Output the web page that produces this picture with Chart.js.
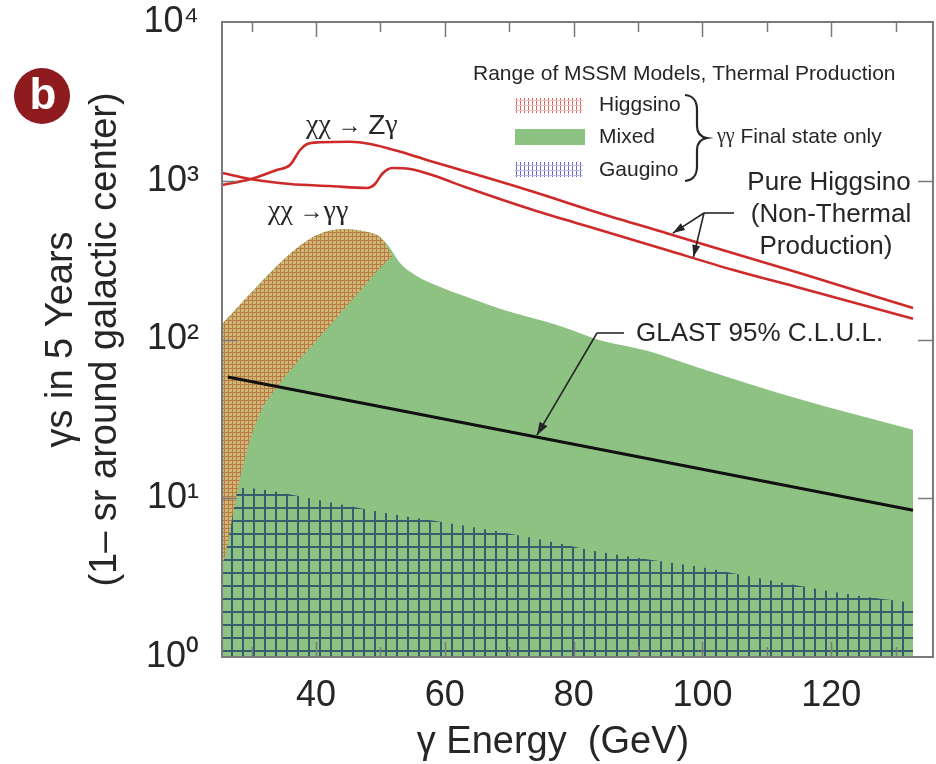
<!DOCTYPE html>
<html>
<head>
<meta charset="utf-8">
<script src="https://cdn.jsdelivr.net/npm/chart.js@4/dist/chart.umd.min.js"></script>
<style>
  html, body { margin: 0; padding: 0; background: #fff; }
  #wrap { width: 936px; height: 764px; }
</style>
</head>
<body>
<div id="wrap"><canvas id="c" width="936" height="764"></canvas></div>
<script>
// ---------- axes ----------
const energyMin = 25.4, energyMax = 135.8;           // GeV
const countMin = 1, countMax = 10000;
const decadeTicks  = [1, 10, 100, 1000, 10000];
const decadeLabels = ['10⁰', '10¹', '10²', '10³', '10⁴'];
const energyTicks    = [30, 40, 50, 60, 70, 80, 90, 100, 110, 120, 130];
const energyLabelled = [40, 60, 80, 100, 120];

// ---------- pure Higgsino (non-thermal) lines ----------
const zgEnergy = [25.4, 29.75, 33.9, 35.96, 37.52, 38.56, 40.62, 45.28, 48.39, 52.7, 57.7, 63.4, 73.74, 84.1, 94.46, 104.8, 115.2, 132.7];
const zgCounts = [940, 1021, 1169, 1257, 1562, 1697, 1747, 1762, 1704, 1540, 1332, 1140, 853, 624, 467, 349, 261, 158];

const ggEnergy = [25.4, 29.75, 35.96, 42.17, 47.92, 49.16, 50.25, 51.8, 54.6, 58.48, 63.14, 73.74, 84.1, 94.46, 104.8, 115.2, 132.7];
const ggCounts = [1119, 1026, 954, 926, 900, 954, 1103, 1203, 1186, 1071, 913, 654, 490, 366, 274, 211, 135];

// ---------- GLAST 95% C.L. upper limit ----------
const glastEnergy = [26.3, 132.7];
const glastLimit  = [58, 8.4];

// ---------- MSSM thermal production ranges ----------
const higgsinoEnergy = [25.4, 25.87, 26.65, 27.73, 29.29, 31.3, 33.94, 36.43, 40.16, 44.19, 47.92, 49.94, 51.8];
const higgsinoUpper  = [125, 131, 141, 158, 185, 224, 290, 361, 455, 497, 476, 442, 340];
const higgsinoLower  = [3.8, 4.33, 6.31, 10.8, 20.1, 34.4, 50.2, 67.1, 99.3, 153, 227, 282, 332];

const mixedEnergy = [25.4, 29.29, 33.94, 40.16, 44.19, 47.92, 49.94, 51.49, 53.04, 55.37, 58.17, 63.45, 68.57, 78.35, 84.1, 91.4, 99.63, 115.16, 132.7];
const mixedUpper  = [125, 185, 290, 455, 497, 476, 442, 377, 303, 255, 224, 185, 156, 120, 99, 85, 66, 42, 27];

const gauginoEnergy = [25.4, 28.67, 39.53, 49.94, 62.36, 73.7, 84.1, 99.63, 107.86, 121.37, 132.7];
const gauginoUpper  = [11.6, 11.6, 9.89, 8.19, 6.78, 5.62, 4.59, 3.69, 3.19, 2.53, 2.19];

// ---------- styling ----------
const GREEN = '#8dc283';
const RED = '#cf2a2a';
const INK = '#262626';
const SANS = '"Liberation Sans", Arial, sans-serif';
const SERIF = '"Liberation Serif", "Times New Roman", serif';

const canvas = document.getElementById('c');
const ctx0 = canvas.getContext('2d');

function gridPattern(w, h, bg, ink, lw, inkH) {
  const t = document.createElement('canvas');
  t.width = w; t.height = h;
  const g = t.getContext('2d');
  g.fillStyle = bg; g.fillRect(0, 0, w, h);
  g.fillStyle = ink; g.fillRect(0, 0, lw, h);
  g.fillStyle = inkH || ink; g.fillRect(0, 0, w, lw);
  return ctx0.createPattern(t, 'repeat');
}

const higgsinoFill = gridPattern(4, 4, '#d0b874', '#b97a4a', 1);
const gauginoFill  = gridPattern(11, 13, GREEN, '#345d6e', 2);
const higgsinoKey  = gridPattern(4, 5, '#ffffff', '#e06464', 1, '#f4c0c0');
const gauginoKey   = gridPattern(4, 5, '#ffffff', '#6a68c4', 1, '#b8b8e8');

const pts = (xs, ys) => xs.map((x, i) => ({ x, y: ys[i] }));

function logInterp(xs, ys, e) {
  for (let i = 0; i < xs.length - 1; i++) {
    if (e >= xs[i] && e <= xs[i + 1]) {
      const t = (e - xs[i]) / (xs[i + 1] - xs[i]);
      return Math.pow(10, Math.log10(ys[i]) * (1 - t) + Math.log10(ys[i + 1]) * t);
    }
  }
  return ys[ys.length - 1];
}

function arrow(ctx, x0, y0, x1, y1, head, half) {
  ctx.beginPath(); ctx.moveTo(x0, y0); ctx.lineTo(x1, y1); ctx.stroke();
  const a = Math.atan2(y1 - y0, x1 - x0);
  const bx = x1 - head * Math.cos(a), by = y1 - head * Math.sin(a);
  ctx.beginPath();
  ctx.moveTo(x1, y1);
  ctx.lineTo(bx + half * Math.sin(a), by - half * Math.cos(a));
  ctx.lineTo(bx - half * Math.sin(a), by + half * Math.cos(a));
  ctx.closePath(); ctx.fill();
}

function segText(ctx, x, y, parts) {
  let cx = x;
  parts.forEach(([txt, font]) => {
    ctx.font = font;
    ctx.fillText(txt, cx, y);
    cx += ctx.measureText(txt).width;
  });
}

// keep the plot box where the axes put it: no extra room for half-labels
function noEdgePadding(s) {
  s.paddingTop = 0; s.paddingBottom = 0; s.paddingLeft = 0; s.paddingRight = 0;
}

const framePlugin = {
  id: 'frame',
  afterDatasetsDraw(chart) {
    const { ctx, chartArea: a, scales: { x, y } } = chart;
    ctx.save();
    ctx.strokeStyle = '#7a7a7a';
    ctx.lineWidth = 2;
    ctx.strokeRect(a.left, a.top, a.right - a.left, a.bottom - a.top);
    ctx.lineWidth = 1.5;
    ctx.beginPath();
    energyTicks.forEach(v => {
      const px = Math.round(x.getPixelForValue(v)) + 0.5;
      const len = energyLabelled.includes(v) ? 15 : 10;
      ctx.moveTo(px, a.bottom); ctx.lineTo(px, a.bottom - len);
      ctx.moveTo(px, a.top); ctx.lineTo(px, a.top + len);
    });
    decadeTicks.slice(1, -1).forEach(v => {
      const py = Math.round(y.getPixelForValue(v)) + 0.5;
      ctx.moveTo(a.left, py); ctx.lineTo(a.left + 15, py);
      ctx.moveTo(a.right, py); ctx.lineTo(a.right - 15, py);
    });
    ctx.stroke();
    ctx.restore();
  },
  afterDraw(chart) {
    const { ctx, scales: { x, y } } = chart;
    const px = e => x.getPixelForValue(e);
    const py = v => y.getPixelForValue(v);
    ctx.save();
    ctx.fillStyle = INK;
    ctx.strokeStyle = INK;
    ctx.textBaseline = 'middle';

    // panel badge
    ctx.fillStyle = '#8e1b1d';
    ctx.beginPath(); ctx.arc(42, 96, 28, 0, Math.PI * 2); ctx.fill();
    ctx.fillStyle = '#ffffff';
    ctx.font = 'bold 44px ' + SANS;
    ctx.textAlign = 'center';
    ctx.fillText('b', 43, 97);

    // x-axis title
    ctx.fillStyle = INK;
    ctx.font = '38px ' + SANS;
    ctx.textAlign = 'center';
    ctx.fillText('γ Energy  (GeV)', 553, 743);

    // channel labels
    ctx.textAlign = 'left';
    segText(ctx, 306, 126, [['χχ', '28px ' + SERIF], [' → ', '24px ' + SANS], ['Z', '28px ' + SANS], ['γ', '28px ' + SERIF]]);
    segText(ctx, 268, 212, [['χχ', '28px ' + SERIF], [' →', '24px ' + SANS], ['γγ', '28px ' + SERIF]]);

    // legend
    ctx.font = '21px ' + SANS;
    ctx.fillText('Range of MSSM Models, Thermal Production', 473, 74);
    ctx.fillStyle = higgsinoKey; ctx.fillRect(515, 98, 68, 15);
    ctx.fillStyle = GREEN;       ctx.fillRect(515, 129, 70, 16);
    ctx.fillStyle = gauginoKey;  ctx.fillRect(515, 162, 68, 15);
    ctx.fillStyle = INK;
    ctx.font = '21px ' + SANS;
    ctx.fillText('Higgsino', 599, 105);
    ctx.fillText('Mixed', 599, 137);
    ctx.fillText('Gaugino', 599, 170);
    ctx.lineWidth = 2.2;
    ctx.beginPath();
    ctx.moveTo(685, 95);
    ctx.bezierCurveTo(694, 96, 697, 101, 697, 110);
    ctx.lineTo(697, 126);
    ctx.bezierCurveTo(697, 133, 701, 137, 707, 138);
    ctx.bezierCurveTo(701, 139, 697, 143, 697, 150);
    ctx.lineTo(697, 166);
    ctx.bezierCurveTo(697, 175, 694, 180, 685, 181);
    ctx.stroke();
    segText(ctx, 717, 137, [['γγ', '20px ' + SERIF], [' Final state only', '21px ' + SANS]]);

    // pure Higgsino annotation
    ctx.font = '26px ' + SANS;
    ctx.textAlign = 'center';
    ctx.fillText('Pure Higgsino', 829, 183);
    ctx.fillText('(Non-Thermal', 831, 215);
    ctx.fillText('Production)', 826, 247);
    ctx.lineWidth = 1.6;
    ctx.beginPath(); ctx.moveTo(704, 213); ctx.lineTo(734, 213); ctx.stroke();
    arrow(ctx, 704, 213, px(95.4), py(logInterp(zgEnergy, zgCounts, 95.4)) - 2, 12, 4);
    arrow(ctx, 704, 213, px(98.6), py(logInterp(ggEnergy, ggCounts, 98.6)) - 1, 12, 4);

    // GLAST annotation
    ctx.textAlign = 'left';
    ctx.font = '26px ' + SANS;
    ctx.fillText('GLAST 95% C.L.U.L.', 636, 334);
    ctx.beginPath(); ctx.moveTo(597, 333); ctx.lineTo(624, 333); ctx.stroke();
    arrow(ctx, 597, 333, px(74.3), py(logInterp(glastEnergy, glastLimit, 74.3)) - 2, 13, 4.5);

    ctx.restore();
  }
};

const transparent = 'rgba(0,0,0,0)';
const datasets = [
  { label: 'χχ → Zγ', data: pts(zgEnergy, zgCounts), borderColor: RED, borderWidth: 2.6, fill: false, order: 0 },
  { label: 'χχ → γγ', data: pts(ggEnergy, ggCounts), borderColor: RED, borderWidth: 2.6, fill: false, order: 1 },
  { label: 'GLAST 95% C.L.U.L.', data: pts(glastEnergy, glastLimit), borderColor: '#111111', borderWidth: 3, fill: false, order: 2 },
  { label: 'Higgsino', data: pts(higgsinoEnergy, higgsinoUpper), borderColor: transparent, borderWidth: 1, backgroundColor: higgsinoFill, fill: { target: 4 }, order: 3 },
  { label: 'Higgsino (lower edge)', data: pts(higgsinoEnergy, higgsinoLower), borderColor: transparent, borderWidth: 1, fill: false, order: 4 },
  { label: 'Gaugino', data: pts(gauginoEnergy, gauginoUpper), borderColor: transparent, borderWidth: 1, backgroundColor: gauginoFill, fill: 'start', order: 5 },
  { label: 'Mixed', data: pts(mixedEnergy, mixedUpper), borderColor: transparent, borderWidth: 1, backgroundColor: GREEN, fill: 'start', order: 6 }
];

new Chart(canvas, {
  type: 'line',
  data: { datasets },
  options: {
    responsive: false,
    animation: false,
    devicePixelRatio: 1,
    layout: { padding: { left: 0, right: 3, top: 22, bottom: 0 } },
    elements: {
      point: { radius: 0, hoverRadius: 0 },
      line: { cubicInterpolationMode: 'monotone' }
    },
    plugins: { legend: { display: false }, tooltip: { enabled: false } },
    scales: {
      x: {
        type: 'linear', min: energyMin, max: energyMax,
        grid: { display: false }, border: { display: false },
        afterBuildTicks: s => { s.ticks = energyLabelled.map(v => ({ value: v })); },
        ticks: {
          autoSkip: false, maxRotation: 0, minRotation: 0, padding: 10, color: INK,
          font: { family: SANS, size: 36, lineHeight: 1.15 },
          callback: v => String(v)
        },
        afterFit: s => { s.height = 107; noEdgePadding(s); }
      },
      y: {
        type: 'logarithmic', min: countMin, max: countMax,
        grid: { display: false }, border: { display: false },
        afterBuildTicks: s => { s.ticks = decadeTicks.map(v => ({ value: v })); },
        ticks: {
          autoSkip: false, padding: 15, color: INK,
          font: { family: SANS, size: 36, lineHeight: 1.15 },
          callback: v => decadeLabels[decadeTicks.indexOf(v)]
        },
        title: {
          display: true,
          text: ['γs in 5 Years', '(1– sr around galactic center)'],
          color: INK,
          font: { family: SANS, size: 38, lineHeight: 1.15 },
          padding: { top: 40, bottom: 0 }
        },
        afterFit: s => { s.width = 222; noEdgePadding(s); }
      }
    }
  },
  plugins: [framePlugin]
});
</script>
</body>
</html>
